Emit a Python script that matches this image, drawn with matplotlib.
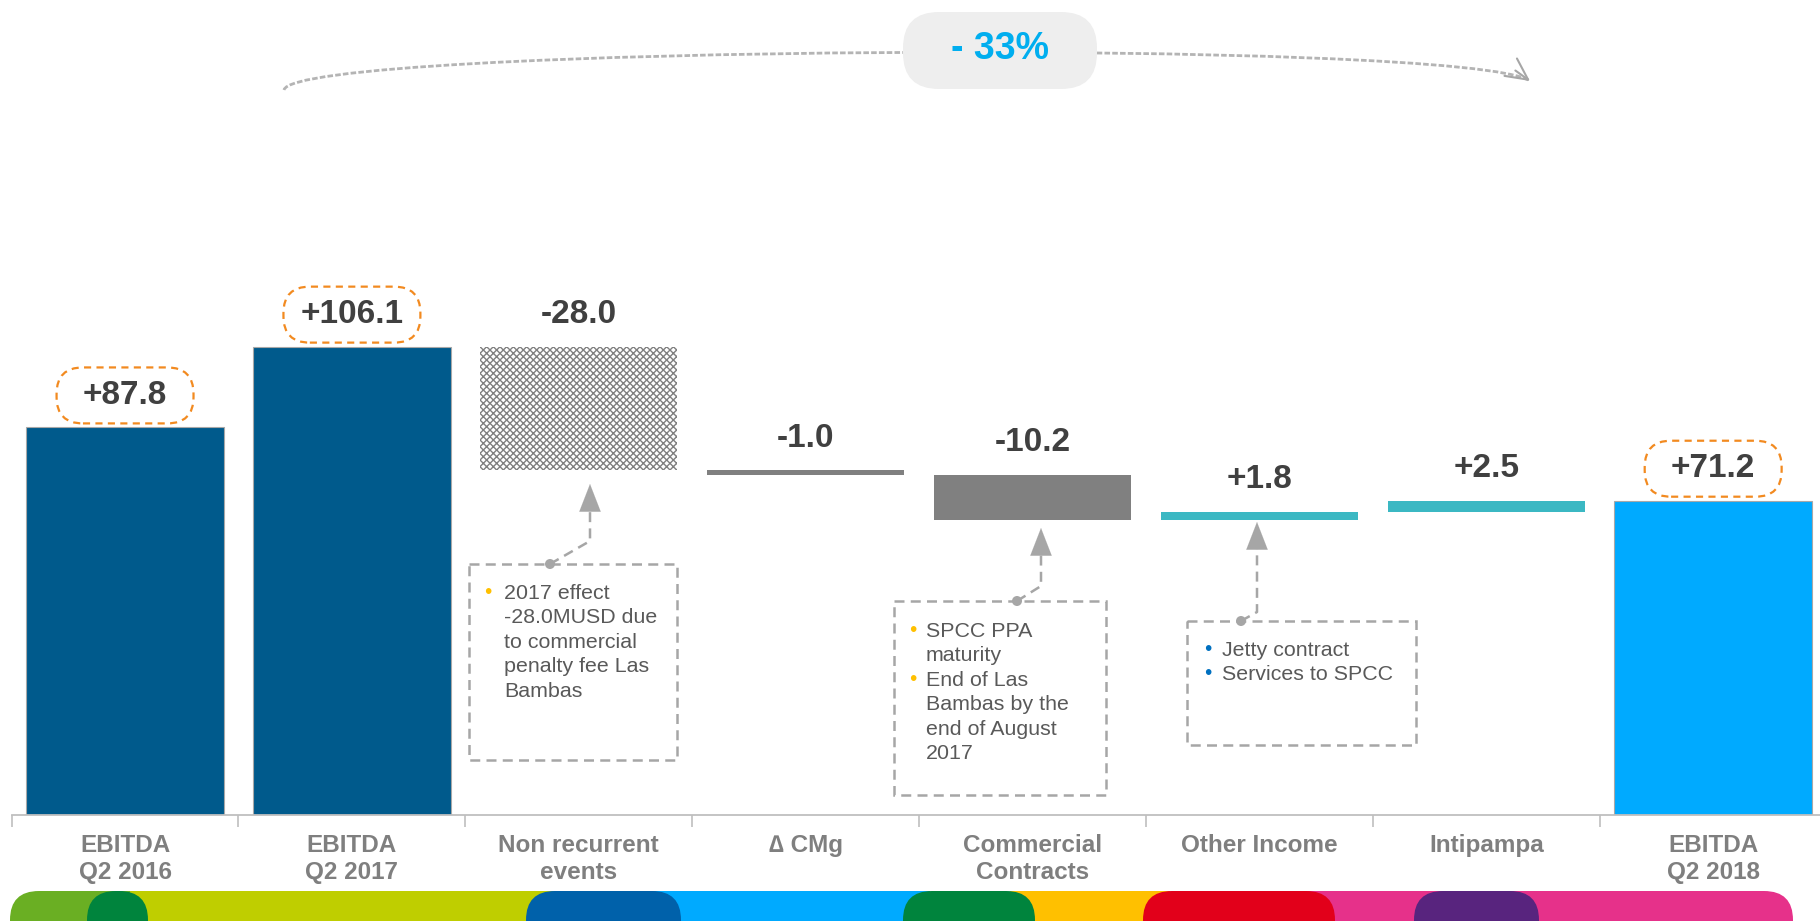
import numpy as np
import matplotlib
matplotlib.use('Agg')
import matplotlib.pyplot as plt
from matplotlib.patches import FancyBboxPatch, Rectangle, Circle, PathPatch
from matplotlib.path import Path
from matplotlib.offsetbox import DrawingArea, AnnotationBbox

plt.rcParams['font.family'] = ['Liberation Sans', 'DejaVu Sans']
plt.rcParams['hatch.linewidth'] = 1.0

# ---------------- data ----------------
categories = ['EBITDA\nQ2 2016', 'EBITDA\nQ2 2017', 'Non recurrent\nevents', '\u2206 CMg',
              'Commercial\nContracts', 'Other Income', 'Intipampa', 'EBITDA\nQ2 2018']
changes = [87.8, 106.1, -28.0, -1.0, -10.2, 1.8, 2.5, 71.2]
is_total = [True, True, False, False, False, False, False, True]
value_labels = ['+87.8', '+106.1', '-28.0', '-1.0', '-10.2', '+1.8', '+2.5', '+71.2']
boxed_labels = [True, True, False, False, False, False, False, True]
bar_colors = ['#005A8C', '#005A8C', '#FFFFFF', '#808080', '#808080', '#3BB8C3', '#3BB8C3', '#00AAFF']
bar_hatches = [None, None, 'xxxxx', None, None, None, None, None]
change_label = '- 33%'

note1_lines = ['2017 effect', '-28.0MUSD due', 'to commercial', 'penalty fee Las', 'Bambas']
note1_bullets = [True, False, False, False, False]
note2_lines = ['SPCC PPA', 'maturity', 'End of Las', 'Bambas by the', 'end of August', '2017']
note2_bullets = [True, False, True, False, False, False]
note3_lines = ['Jetty contract', 'Services to SPCC']
note3_bullets = [True, True]

# ---------------- figure ----------------
W, H = 1820, 921
fig = plt.figure(figsize=(W / 100, H / 100), dpi=100)
ax = fig.add_axes([10 / 1568, 106 / 921, 1815 / 1820, 815 / 921])

# waterfall geometry
running = 0.0
bottoms, heights = [], []
for v, tot in zip(changes, is_total):
    if tot:
        bottoms.append(0.0)
        heights.append(v)
        running = v
    else:
        new = running + v
        bottoms.append(min(running, new))
        heights.append(abs(v))
        running = new

x = np.arange(len(categories))
for i in range(len(categories)):
    if is_total[i]:
        ax.bar(x[i], heights[i], bottom=bottoms[i], width=0.87, color=bar_colors[i],
               edgecolor='#A8A8A8', linewidth=0.8, zorder=2)
    elif bar_hatches[i]:
        ax.bar(x[i], heights[i], bottom=bottoms[i], width=0.87, facecolor=bar_colors[i],
               edgecolor='#808080', hatch=bar_hatches[i], linewidth=0, zorder=2)
    else:
        ax.bar(x[i], heights[i], bottom=bottoms[i], width=0.87, color=bar_colors[i],
               linewidth=0, zorder=2)

ax.set_xlim(-0.5, len(categories) - 0.5)
ax.set_ylim(0, 184.6)

orange = '#F28A20'
for i in range(len(categories)):
    top = bottoms[i] + heights[i]
    ax.annotate(value_labels[i], xy=(x[i], top), xytext=(0, 23), textcoords='offset points',
                ha='center', va='center', fontsize=24, fontweight='bold', color='#404040', zorder=5)
    if boxed_labels[i]:
        bw, bh = 98.6, 40.3
        da = DrawingArea(bw, bh, 0, 0)
        p = FancyBboxPatch((0, 0), bw, bh, boxstyle='round,pad=0,rounding_size=19',
                           fc='none', ec=orange, lw=1.6, ls=(0, (3.2, 2.4)))
        da.add_artist(p)
        ab = AnnotationBbox(da, (x[i], top), xybox=(0, 23), xycoords='data',
                            boxcoords='offset points', frameon=False, pad=0,
                            box_alignment=(0.5, 0.5))
        ax.add_artist(ab)

for s in ['top', 'right', 'left']:
    ax.spines[s].set_visible(False)
ax.spines['bottom'].set_color('#BFBFBF')
ax.spines['bottom'].set_linewidth(1.3)
ax.set_yticks([])
ax.set_xticks(x)
ax.set_xticklabels(categories, fontsize=17.5, fontweight='bold', color='#7F7F7F', linespacing=1.2)
ax.set_xticks(np.arange(-0.5, len(categories), 1), minor=True)
ax.tick_params(axis='x', which='major', length=0, pad=14)
ax.tick_params(axis='x', which='minor', length=8.5, width=1.2, color='#BFBFBF', direction='out')
ax.patch.set_alpha(0)

# ---------------- overlay (pixel coordinates) ----------------
ov = fig.add_axes([0, 0, 1, 1])
ov.set_xlim(0, W)
ov.set_ylim(H, 0)
ov.axis('off')
ov.patch.set_alpha(0)

# bottom colour strip
strip_y, strip_h, rr = 891, 60, 29
base_segments = [('#6AAF23', 10, 200, True), ('#BFCE00', 130, 560, False),
                 ('#00AAFF', 650, 930, False), ('#FFC000', 1010, 1170, False),
                 ('#E6318A', 1600, 1793, True), ('#E6318A', 1290, 1700, False)]
top_segments = [('#00843D', 87, 148), ('#0061AA', 526, 681), ('#00843D', 903, 1035),
                ('#E2001A', 1143, 1335), ('#58247E', 1414, 1539)]
for col, a, b, rnd in base_segments:
    style = f'round,pad=0,rounding_size={rr}' if rnd else 'square,pad=0'
    ov.add_patch(FancyBboxPatch((a, strip_y), b - a, strip_h, boxstyle=style, fc=col, ec='none', zorder=1))
for col, a, b in top_segments:
    ov.add_patch(FancyBboxPatch((a, strip_y), b - a, strip_h, boxstyle=f'round,pad=0,rounding_size={rr}',
                                fc=col, ec='none', zorder=2))

# top curved dashed arrow
gray = '#A6A6A6'
P0, P1, P2, P3 = (284, 90), (292, 45), (1470, 38), (1530, 81)
curve = Path([P0, P1, P2, P3], [Path.MOVETO, Path.CURVE4, Path.CURVE4, Path.CURVE4])
ov.add_patch(PathPatch(curve, fill=False, ec='#B4B4B4', lw=2.0, ls=(0, (2.0, 0.8)), zorder=2))
d = np.array(P3, float) - np.array(P2, float)
d = d / np.linalg.norm(d)
ov.annotate('', xy=P3, xytext=(P3[0] - 18 * d[0], P3[1] - 18 * d[1]),
            arrowprops=dict(arrowstyle='->,head_length=0.7,head_width=0.35', color='#A6A6A6',
                            lw=1.5, mutation_scale=22, shrinkA=0, shrinkB=0), zorder=3)
ov.add_patch(FancyBboxPatch((903, 12), 194, 77, boxstyle='round,pad=0,rounding_size=36',
                            fc='#EEEEEE', ec='none', zorder=4))
ov.text(1000, 49, change_label, ha='center', va='center', fontsize=27, fontweight='bold',
        color='#00AEEF', zorder=5)

# note boxes
def note(rect, dot, bend, tip, lines, bullets, bullet_color, text_x, bullet_x, y0):
    x0, y0r, x1, y1 = rect
    ov.add_patch(Rectangle((x0, y0r), x1 - x0, y1 - y0r, fill=False, ec=gray, lw=1.8,
                           ls=(0, (4, 2.5)), zorder=3))
    ov.plot([dot[0], bend[0], tip[0]], [dot[1], bend[1], tip[1] + 20], color=gray, lw=1.8,
            ls=(0, (4, 2.5)), zorder=3)
    ov.add_patch(Circle(dot, 5, fc=gray, ec='none', zorder=4))
    ov.annotate('', xy=tip, xytext=(tip[0], tip[1] + 24),
                arrowprops=dict(arrowstyle='-|>,head_length=0.9,head_width=0.35', color=gray,
                                lw=0.1, mutation_scale=22, shrinkA=0, shrinkB=0), zorder=4)
    for k, (ln, b) in enumerate(zip(lines, bullets)):
        yy = y0 + k * 24.5
        ov.text(text_x, yy, ln, ha='left', va='center', fontsize=15.4, color='#595959', zorder=5)
        if b:
            ov.text(bullet_x, yy - 1, '\u2022', ha='center', va='center', fontsize=15,
                    color=bullet_color, zorder=5)

note((469, 564, 677, 760), (550, 564), (590, 541), (590, 484), note1_lines, note1_bullets,
     '#FFC000', 504, 488, 593)
note((894, 601, 1106, 795), (1017, 601), (1041, 586), (1041, 528), note2_lines, note2_bullets,
     '#FFC000', 926, 913, 631)
note((1187, 621, 1416, 745), (1241, 621), (1257, 612), (1257, 522), note3_lines, note3_bullets,
     '#0070C0', 1222, 1208, 650)

fig.savefig('out.png', dpi=100)
